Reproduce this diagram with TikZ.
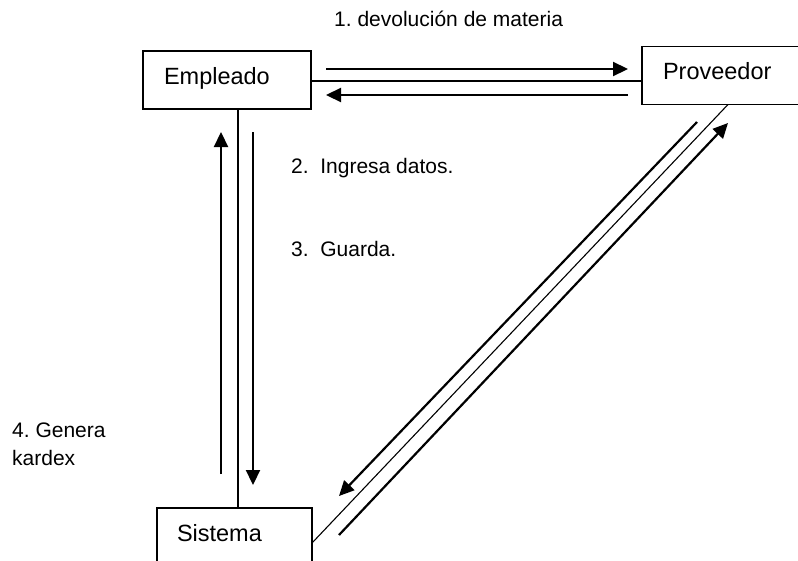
\documentclass[tikz,border=0pt]{standalone}
\usepackage{fontspec}
\setmainfont{Liberation Sans}
\usetikzlibrary{arrows.meta,calc}
\frenchspacing
\begin{document}
\begin{tikzpicture}[x=1pt,y=-1pt,
  box/.style={draw, line width=1.4pt, rectangle, align=left,
    font=\fontsize{23.5}{28}\selectfont, text height=20pt, text depth=12pt,
    inner ysep=13pt, inner xsep=21pt, outer sep=0pt},
  conn/.style={line width=1.1pt},
  flow/.style={line width=2.2pt, -{Triangle[length=15pt,width=14pt]}},
  lbl/.style={font=\fontsize{21}{28}\selectfont, inner sep=0pt, anchor=base west, align=left}]
\clip (0,0) rectangle (798,560);
\fill[white] (0,0) rectangle (798,560);

% boxes
\node[box, text width=126pt] (emp) at (227,80) {Empleado};
\node[box, text width=128pt] (prov) at (727,75.5) {Proveedor};
\node[box, text width=115pt, inner xsep=20pt] (sis) at (234.5,537) {Sistema};

% connectors
\draw[conn] (emp.east |- 0,81) -- (prov.west |- 0,81);
\draw[conn] ([xshift=11pt]emp.south) -- ([xshift=11pt]emp.south |- sis.north);
\draw[conn] ([xshift=86pt]prov.south west) -- ([yshift=-6pt]sis.east);

% free-standing flow arrows
\coordinate (a1s) at (326,69);  \coordinate (a1e) at (628,69);
\coordinate (a2s) at (628,95);  \coordinate (a2e) at (326,95);
\coordinate (a3s) at (221,474); \coordinate (a3e) at (221,132);
\coordinate (a4s) at (253,132); \coordinate (a4e) at (253,485);
\coordinate (a5s) at (697,122); \coordinate (a5e) at (339,496);
\coordinate (a6s) at (339,535); \coordinate (a6e) at (728,123);
\draw[flow] (a1s) -- (a1e);
\draw[flow] (a2s) -- (a2e);
\draw[flow] (a3s) -- (a3e);
\draw[flow] (a4s) -- (a4e);
\draw[flow] (a5s) -- (a5e);
\draw[flow] (a6s) -- (a6e);

% labels
\node[lbl] (l1) at (334,26) {1. devolución de materia};
\node[lbl] (l2) at (291,173) {2.\ \ Ingresa datos.};
\node[lbl] (l3) at (291,256) {3.\ \ Guarda.};
\node[lbl] (l4) at (12,465) {4. Genera\\kardex};
\end{tikzpicture}
\end{document}
